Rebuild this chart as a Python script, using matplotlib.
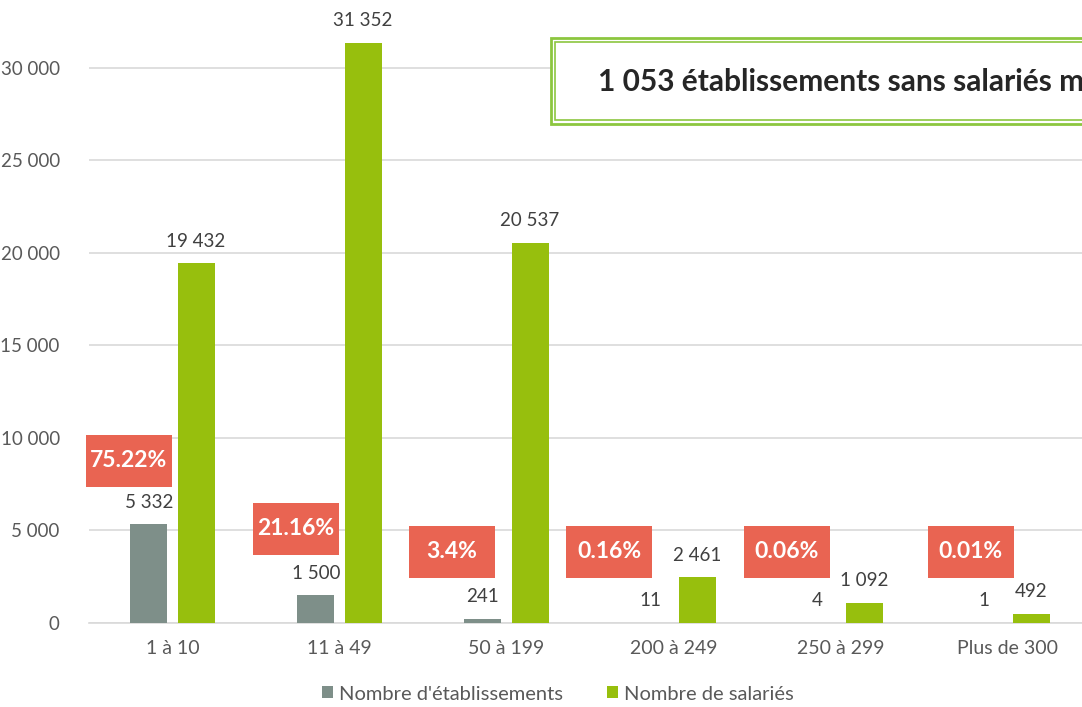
import matplotlib
matplotlib.use("Agg")
import matplotlib.pyplot as plt
from matplotlib.patches import Rectangle
import numpy as np

categories = ["1 à 10", "11 à 49", "50 à 199", "200 à 249", "250 à 299", "Plus de 300"]
etablissements = [5332, 1500, 241, 11, 4, 1]
salaries = [19432, 31352, 20537, 2461, 1092, 492]
pct_labels = ["75.22%", "21.16%", "3.4%", "0.16%", "0.06%", "0.01%"]
yticks = [0, 5000, 10000, 15000, 20000, 25000, 30000]
title_text = "1 053 établissements sans salariés majoritairement dans la tranche 1 à 10"

# layout of the percentage boxes (offset from category centre, vertical centre)
pct_dx = [-0.263, -0.263, -0.326, -0.386, -0.32, -0.22]
pct_y = [8757, 5081, 3838, 3838, 3838, 3838]

GRAY = "#7E8F89"
GREEN = "#97BF0D"
RED = "#E96452"
TXT = "#404040"
TICK = "#595959"

plt.rcParams['font.family'] = ['Lato', 'DejaVu Sans']

fig = plt.figure(figsize=(10.82, 7.07), dpi=100)
ax = fig.add_axes([89/1082, 84/707, 1002/1082, 618/707])

x = np.arange(len(categories))
w = 0.222
off = 0.141
ax.bar(x - off, etablissements, w, color=GRAY, label="Nombre d'établissements", zorder=3)
ax.bar(x + off, salaries, w, color=GREEN, label="Nombre de salariés", zorder=3)

def fmt(v):
    return f"{v:,}".replace(",", " ")

for i in range(len(categories)):
    ax.text(x[i] - off, etablissements[i] + 1200, fmt(etablissements[i]), ha="center", va="center",
            fontsize=13.5, color=TXT, zorder=5)
    ax.text(x[i] + off, salaries[i] + 1200, fmt(salaries[i]), ha="center", va="center",
            fontsize=13.5, color=TXT, zorder=5)

bw, bh = 0.515, 2811
for i in range(len(categories)):
    cx = x[i] + pct_dx[i]
    cy = pct_y[i]
    ax.add_patch(Rectangle((cx - bw/2, cy - bh/2), bw, bh, facecolor=RED, edgecolor="none",
                           zorder=6, clip_on=False))
    ax.text(cx, cy, pct_labels[i], ha="center", va="center", fontsize=16.5, fontweight="bold",
            color="white", zorder=7, clip_on=False)

ax.set_xlim(-0.5, len(categories) - 0.5)
ax.set_ylim(0, 33400)
ax.set_yticks(yticks)
ax.set_yticklabels([fmt(v) for v in yticks], fontsize=13.5, color=TICK)
ax.set_xticks(x)
ax.set_xticklabels(categories, fontsize=14, color=TICK)
ax.tick_params(axis="both", length=0)
ax.tick_params(axis="y", pad=21)
ax.tick_params(axis="x", pad=12)
ax.grid(axis="y", color="#D9D9D9", linewidth=1.2, zorder=0)
for s in ["top", "right", "left"]:
    ax.spines[s].set_visible(False)
ax.spines["bottom"].set_color("#D9D9D9")
ax.spines["bottom"].set_linewidth(1.2)

# title box
fig.patches.append(Rectangle((551/1082, 1 - 124/707), 600/1082, 86/707, transform=fig.transFigure,
                             facecolor="white", edgecolor="#8CC63F", linewidth=2, zorder=10))
fig.patches.append(Rectangle((555/1082, 1 - 120/707), 600/1082, 78/707, transform=fig.transFigure,
                             facecolor="white", edgecolor="#8CC63F", linewidth=1.2, zorder=11))
fig.text(598/1082, 1 - 82/707, title_text, ha="left", va="center", fontsize=21.5, fontweight="bold",
         color="#262626", zorder=12)

handles, labels = ax.get_legend_handles_labels()
fig.legend(handles, labels, loc="center", bbox_to_anchor=(558/1082, 1 - 694/707), ncol=2, frameon=False,
           fontsize=14.5, handlelength=0.55, handleheight=0.55, handletextpad=0.3, columnspacing=2.2,
           labelcolor=TICK)

fig.savefig("out.png", dpi=100)
